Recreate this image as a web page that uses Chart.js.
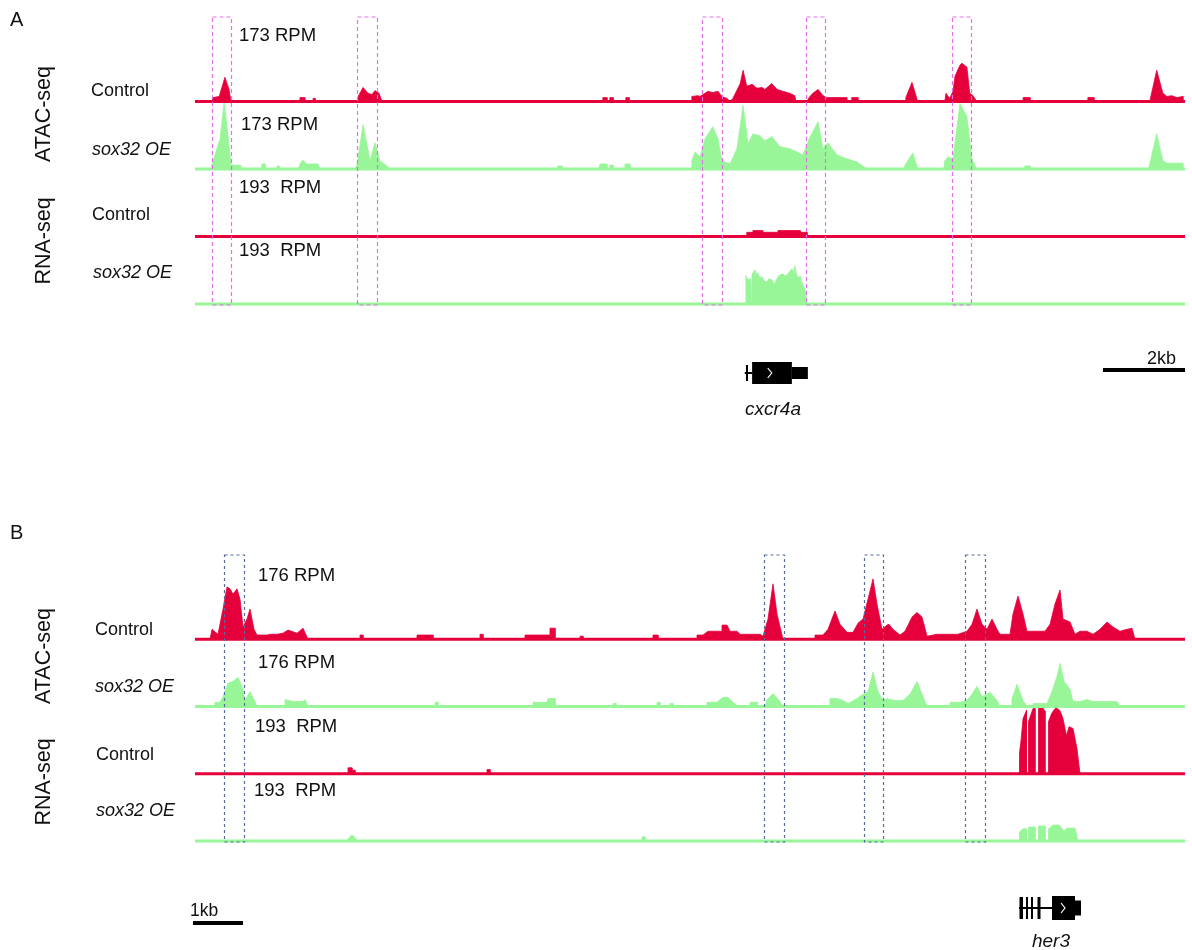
<!DOCTYPE html>
<html>
<head>
<meta charset="utf-8">
<script src="https://cdn.jsdelivr.net/npm/chart.js@4.4.1/dist/chart.umd.min.js"></script>
<style>
  html, body { margin: 0; padding: 0; background: #fff; }
  #page { position: relative; width: 1192px; height: 950px; overflow: hidden;
          font-family: "Liberation Sans", Arial, Helvetica, sans-serif; color: #111; }
  #page canvas { position: absolute; left: 0; }
  .lbl { position: absolute; white-space: pre; line-height: 1; }
  .it { font-style: italic; }
  .rot { transform: translate(-50%, -50%) rotate(-90deg); }
  .ctr { transform: translateX(-50%); }
</style>
</head>
<body>
<div id="page">
  <canvas id="panelA" width="1192" height="475" style="top:0"></canvas>
  <canvas id="panelB" width="1192" height="475" style="top:475px"></canvas>

  <!-- Panel A labels -->
  <div class="lbl" style="left:10px; top:9px; font-size:20px;">A</div>
  <div class="lbl rot" style="left:44px; top:114px; font-size:21.5px;">ATAC-seq</div>
  <div class="lbl rot" style="left:44px; top:241px; font-size:21.5px;">RNA-seq</div>
  <div class="lbl" style="left:91px; top:81px; font-size:18px;">Control</div>
  <div class="lbl it" style="left:92px; top:140px; font-size:18px;">sox32 OE</div>
  <div class="lbl" style="left:92px; top:205px; font-size:18px;">Control</div>
  <div class="lbl it" style="left:93px; top:263px; font-size:18px;">sox32 OE</div>
  <div class="lbl" style="left:239px; top:26px; font-size:18.5px;">173 RPM</div>
  <div class="lbl" style="left:241px; top:115px; font-size:18.5px;">173 RPM</div>
  <div class="lbl" style="left:239px; top:178px; font-size:18.5px;">193  RPM</div>
  <div class="lbl" style="left:239px; top:241px; font-size:18.5px;">193  RPM</div>
  <div class="lbl it ctr" style="left:773px; top:399px; font-size:19px;">cxcr4a</div>
  <div class="lbl" style="left:1147px; top:349px; font-size:18px;">2kb</div>

  <!-- Panel B labels -->
  <div class="lbl" style="left:10px; top:522px; font-size:20px;">B</div>
  <div class="lbl rot" style="left:44px; top:656px; font-size:21.5px;">ATAC-seq</div>
  <div class="lbl rot" style="left:44px; top:782px; font-size:21.5px;">RNA-seq</div>
  <div class="lbl" style="left:95px; top:620px; font-size:18px;">Control</div>
  <div class="lbl it" style="left:95px; top:677px; font-size:18px;">sox32 OE</div>
  <div class="lbl" style="left:96px; top:745px; font-size:18px;">Control</div>
  <div class="lbl it" style="left:96px; top:801px; font-size:18px;">sox32 OE</div>
  <div class="lbl" style="left:258px; top:566px; font-size:18.5px;">176 RPM</div>
  <div class="lbl" style="left:258px; top:653px; font-size:18.5px;">176 RPM</div>
  <div class="lbl" style="left:255px; top:717px; font-size:18.5px;">193  RPM</div>
  <div class="lbl" style="left:254px; top:781px; font-size:18.5px;">193  RPM</div>
  <div class="lbl" style="left:190px; top:902px; font-size:17.5px;">1kb</div>
  <div class="lbl it ctr" style="left:1051px; top:931px; font-size:19px;">her3</div>
</div>

<script>
// Coverage profiles: [position in kb from the window start, signal in RPM]

// ---------- Panel A: cxcr4a locus ----------
const windowA = [0, 24.15];
const atacScaleA = 173;
const rnaScaleA = 193;

const atacControlA = [
  [0,0],[0.41,0],[0.44,10],[0.59,13],[0.73,62],[0.83,31],[0.88,0],
  [2.56,0],[2.56,10],[2.68,10],[2.68,0],[2.88,0],[2.88,8],[2.93,8],[2.93,0],
  [3.95,0],[3.98,13],[4.10,36],[4.22,21],[4.32,18],[4.39,28],[4.49,21],[4.56,0],
  [9.95,0],[9.95,10],[10.05,10],[10.05,0],[10.12,0],[10.12,10],[10.20,10],[10.20,0],
  [10.51,0],[10.51,10],[10.59,10],[10.59,0],
  [12.12,0],[12.12,13],[12.27,15],[12.32,13],[12.44,21],[12.51,26],[12.63,23],[12.76,26],[12.85,13],[12.98,8],[13.05,0],
  [13.12,8],[13.30,46],[13.37,80],[13.46,39],[13.59,44],[13.71,34],[13.83,36],[13.90,31],[14.07,46],[14.20,31],
  [14.34,26],[14.51,21],[14.63,15],[14.66,0],
  [14.93,0],[14.98,10],[15.07,21],[15.20,31],[15.32,15],[15.41,10],[15.90,10],[15.90,0],
  [16.02,0],[16.02,10],[16.17,10],[16.17,0],
  [17.32,0],[17.34,10],[17.49,49],[17.63,0],
  [18.29,0],[18.32,21],[18.41,8],[18.49,26],[18.54,65],[18.66,93],[18.71,98],[18.83,88],[18.90,21],[18.98,15],[19.07,0],
  [20.20,0],[20.20,10],[20.37,10],[20.37,0],[21.78,0],[21.78,10],[21.93,10],[21.93,0],
  [23.29,0],[23.46,80],[23.61,21],[23.71,13],[23.83,15],[23.95,10],[24.10,13],[24.10,0],[24.15,0]
];

const atacSox32A = [
  [0,0],[0.41,0],[0.41,10],[0.61,77],[0.71,170],[0.80,90],[0.88,10],[1.10,10],[1.12,0],
  [1.63,0],[1.63,13],[1.71,13],[1.71,0],[2.00,0],[2.00,8],[2.05,8],[2.05,0],
  [2.52,0],[2.56,13],[2.63,23],[2.72,13],[2.80,13],[3.00,13],[3.05,0],
  [3.92,0],[3.95,10],[4.10,114],[4.27,21],[4.39,67],[4.51,21],[4.68,8],[4.76,0],
  [8.85,0],[8.85,8],[8.95,8],[8.95,0],
  [9.85,0],[9.88,13],[10.05,13],[10.05,0],[10.12,0],[10.12,10],[10.20,10],[10.20,0],
  [10.49,0],[10.49,13],[10.61,13],[10.61,0],
  [12.10,0],[12.12,21],[12.20,44],[12.32,31],[12.44,77],[12.63,108],[12.76,77],[12.85,21],[13.05,13],
  [13.22,52],[13.37,163],[13.49,65],[13.61,90],[13.78,85],[13.90,72],[14.07,83],[14.27,57],[14.51,52],
  [14.68,44],[14.83,36],[14.98,77],[15.20,121],[15.32,52],[15.44,67],[15.66,36],[15.90,26],[16.15,18],[16.39,0],
  [17.30,0],[17.32,10],[17.51,41],[17.63,0],
  [18.27,0],[18.29,21],[18.37,31],[18.49,26],[18.66,168],[18.83,134],[18.95,26],[19.07,0],
  [20.24,0],[20.24,8],[20.37,8],[20.37,0],
  [23.26,0],[23.29,13],[23.46,90],[23.61,21],[23.71,15],[24.10,15],[24.10,0],[24.15,0]
];

const rnaControlA = [
  [13.44,0],[13.46,0],[13.46,12],[13.61,12],[13.61,17],[13.85,17],[13.85,12],
  [14.22,12],[14.22,17],[14.76,17],[14.76,12],[14.93,12],[14.93,0]
];

const rnaSox32A = [
  [13.42,0],[13.44,81],[13.49,69],[13.54,72],[13.55,6],[13.57,6],[13.59,86],[13.63,92],[13.66,98],
  [13.70,84],[13.73,89],[13.78,75],[13.83,78],[13.88,66],[13.95,63],[14.00,72],[14.07,69],[14.12,58],
  [14.15,60],[14.22,78],[14.28,84],[14.34,86],[14.40,80],[14.46,86],[14.52,95],[14.56,101],[14.60,90],
  [14.63,109],[14.67,86],[14.71,75],[14.76,80],[14.80,63],[14.88,43],[14.93,0]
];

// highlighted regions (kb)
const regionsA = [[0.41,0.87],[3.96,4.43],[12.36,12.85],[14.90,15.37],[18.46,18.94]];

// cxcr4a gene model (kb)
const geneA = { intron: [13.41,13.59], exons: [[13.44,13.49]], cds: [13.59,14.56], utr: [14.56,14.95], strandMark: 14.02 };
const scaleBarA = { start: 22.15, length: 2 };

// ---------- Panel B: her3 locus ----------
const windowB = [0, 19.8];
const atacScaleB = 176;
const rnaScaleB = 193;

const atacControlB = [
  [0,0],[0.30,0],[0.34,26],[0.46,13],[0.56,79],[0.64,137],[0.70,132],[0.76,118],[0.84,132],[0.90,105],
  [0.96,32],[1.04,53],[1.10,79],[1.18,26],[1.24,11],[1.44,11],[1.50,13],[1.64,13],[1.76,16],[1.86,24],
  [2.04,16],[2.16,29],[2.26,0],
  [3.30,0],[3.30,11],[3.36,11],[3.36,0],
  [4.44,0],[4.44,11],[4.76,11],[4.76,0],
  [5.70,0],[5.70,13],[5.76,13],[5.76,0],
  [6.60,0],[6.60,11],[7.10,11],[7.10,29],[7.20,29],[7.20,0],
  [7.70,0],[7.70,8],[7.76,8],[7.76,0],
  [9.16,0],[9.16,11],[9.26,11],[9.26,0],
  [10.04,0],[10.04,11],[10.16,11],[10.26,21],[10.54,21],[10.54,37],[10.64,37],[10.70,21],[10.84,21],
  [10.90,13],[11.30,13],[11.36,8],[11.46,53],[11.56,145],[11.64,66],[11.76,0],
  [12.40,0],[12.40,11],[12.56,11],[12.66,26],[12.80,74],[12.90,39],[13.04,18],[13.16,18],[13.26,42],
  [13.36,53],[13.46,105],[13.56,158],[13.64,92],[13.74,26],[13.84,37],[13.88,39],[13.96,26],[14.10,11],
  [14.20,21],[14.34,58],[14.44,70],[14.54,58],[14.64,8],[14.84,13],[15.26,13],[15.44,21],[15.54,39],
  [15.64,79],[15.74,39],[15.84,26],[15.94,53],[16.04,26],[16.10,13],[16.30,13],[16.36,66],[16.46,113],
  [16.56,66],[16.64,21],[16.76,21],[17.00,21],[17.10,39],[17.20,92],[17.30,129],[17.36,53],[17.50,45],
  [17.60,13],[17.70,21],[17.84,21],[17.96,13],[18.10,26],[18.24,45],[18.36,32],[18.50,21],[18.64,26],
  [18.74,29],[18.80,0],[19.80,0]
];

const atacSox32B = [
  [0,0],[0.40,0],[0.40,11],[0.50,11],[0.56,26],[0.66,61],[0.76,66],[0.86,76],[0.94,53],[1.00,16],
  [1.10,39],[1.20,13],[1.24,0],
  [1.80,0],[1.80,18],[1.96,13],[2.16,13],[2.20,18],[2.26,0],
  [4.80,0],[4.80,11],[4.86,11],[4.86,0],
  [6.76,0],[6.76,11],[7.04,11],[7.06,21],[7.20,21],[7.20,0],
  [8.36,0],[8.36,8],[8.42,8],[8.42,0],
  [9.24,0],[9.24,11],[9.30,11],[9.30,0],[9.50,0],[9.50,8],[9.56,8],[9.56,0],
  [10.24,0],[10.24,11],[10.44,11],[10.56,24],[10.66,24],[10.76,11],[10.86,0],
  [11.10,0],[11.10,11],[11.24,11],[11.24,0],
  [11.40,0],[11.44,18],[11.56,34],[11.70,13],[11.76,0],
  [12.70,0],[12.70,21],[12.84,21],[12.96,16],[13.06,8],[13.24,21],[13.36,32],[13.46,39],[13.56,90],
  [13.66,39],[13.76,16],[13.84,21],[13.90,18],[14.00,16],[14.16,16],[14.30,32],[14.44,66],[14.56,26],[14.64,0],
  [15.10,0],[15.10,11],[15.30,11],[15.44,16],[15.54,32],[15.64,53],[15.74,26],[15.90,37],[16.04,16],[16.10,0],
  [16.34,0],[16.34,21],[16.44,58],[16.56,16],[16.64,0],
  [16.76,0],[16.76,8],[17.04,8],[17.14,39],[17.24,79],[17.30,113],[17.38,66],[17.50,45],[17.56,13],
  [17.70,13],[17.84,18],[17.96,13],[18.04,13],[18.44,13],[18.50,0],[19.80,0]
];

const rnaControlB = [
  [3.06,0],[3.06,17],[3.14,17],[3.14,10],[3.20,10],[3.20,0],
  [5.84,0],[5.84,12],[5.90,12],[5.90,0],
  [16.48,0],[16.49,60],[16.52,95],[16.56,158],[16.63,182],[16.63,0],
  [16.67,0],[16.67,150],[16.76,187],[16.80,187],[16.80,0],
  [16.87,0],[16.87,187],[16.94,192],[17.00,180],[17.00,0],
  [17.07,0],[17.07,150],[17.14,175],[17.22,190],[17.30,181],[17.36,158],[17.43,109],[17.48,135],
  [17.56,130],[17.64,72],[17.70,0]
];

const rnaSox32B = [
  [3.04,0],[3.08,10],[3.14,17],[3.20,10],[3.24,0],
  [8.94,0],[8.94,12],[9.00,12],[9.00,0],
  [16.49,0],[16.49,26],[16.56,35],[16.63,35],[16.63,0],
  [16.67,0],[16.67,40],[16.80,40],[16.80,0],
  [16.87,0],[16.87,43],[17.00,43],[17.00,0],
  [17.07,0],[17.07,35],[17.16,46],[17.28,46],[17.38,29],[17.44,37],[17.60,37],[17.66,0]
];

const regionsB = [[0.57,0.97],[11.37,11.77],[13.37,13.75],[15.40,15.80]];

// her3 gene model (kb)
const geneB = { intron: [16.48,17.14], exons: [[16.49,16.56],[16.62,16.65],[16.72,16.76],[16.85,16.91]],
                cds: [17.14,17.60], utr: [17.60,17.72], strandMark: 17.36 };
const scaleBarB = { start: -0.04, length: 1 };

// ---------- drawing ----------
const RED = 'rgb(229,0,59)';
const GREEN = 'rgb(152,246,152)';

function toPoints(pairs) { return pairs.map(p => ({ x: p[0], y: p[1] })); }

function track(profile, axis, color) {
  return {
    data: toPoints(profile), yAxisID: axis,
    borderColor: color, backgroundColor: color, borderWidth: 0.8,
    fill: 'origin', pointRadius: 0, tension: 0
  };
}

function trackAxis(max) {
  return { type: 'linear', position: 'left', stack: 'tracks', stackWeight: 1, min: 0, max: max, display: false };
}

function makeDecor(cfg) {
  return {
    id: 'trackDecor',
    afterDatasetsDraw(chart) {
      const { ctx, chartArea, scales } = chart;
      const x = scales.x;
      // track baselines
      cfg.baselines.forEach(b => {
        const y = scales[b.axis].getPixelForValue(0);
        ctx.save();
        ctx.strokeStyle = b.color; ctx.lineWidth = 3.2;
        ctx.beginPath(); ctx.moveTo(chartArea.left, y); ctx.lineTo(chartArea.right, y); ctx.stroke();
        ctx.restore();
      });
      // dashed highlight boxes
      ctx.save();
      ctx.strokeStyle = cfg.boxColor; ctx.lineWidth = 1.2; ctx.setLineDash(cfg.boxDash);
      cfg.regions.forEach(r => {
        const l = Math.round(x.getPixelForValue(r[0])) + 0.5;
        const rr = Math.round(x.getPixelForValue(r[1])) + 0.5;
        const top = chartArea.top - cfg.boxRise;
        ctx.strokeRect(l, top, rr - l, chartArea.bottom + 1 - top);
      });
      ctx.restore();
    },
    afterDraw(chart) {
      const { ctx, chartArea, scales } = chart;
      const x = scales.x;
      const g = cfg.gene;
      const yc = chartArea.bottom + cfg.geneOffset;
      ctx.save();
      ctx.fillStyle = '#000'; ctx.strokeStyle = '#000';
      ctx.lineWidth = 2;
      ctx.beginPath(); ctx.moveTo(x.getPixelForValue(g.intron[0]), yc); ctx.lineTo(x.getPixelForValue(g.intron[1]), yc); ctx.stroke();
      g.exons.forEach(e => {
        const l = x.getPixelForValue(e[0]);
        const w = Math.max(x.getPixelForValue(e[1]) - l, 2);
        ctx.fillRect(l, yc - cfg.exonH / 2, w, cfg.exonH);
      });
      const c0 = x.getPixelForValue(g.cds[0]), c1 = x.getPixelForValue(g.cds[1]);
      ctx.fillRect(c0, yc - cfg.cdsH / 2, c1 - c0, cfg.cdsH);
      const u0 = x.getPixelForValue(g.utr[0]), u1 = x.getPixelForValue(g.utr[1]);
      ctx.fillRect(u0, yc - cfg.utrH / 2, u1 - u0, cfg.utrH);
      // strand chevron
      const ax = x.getPixelForValue(g.strandMark);
      ctx.strokeStyle = '#fff'; ctx.lineWidth = 1.2;
      ctx.beginPath(); ctx.moveTo(ax - 2, yc - 5); ctx.lineTo(ax + 2, yc); ctx.lineTo(ax - 2, yc + 5); ctx.stroke();
      // scale bar
      const s0 = x.getPixelForValue(cfg.scaleBar.start);
      const s1 = x.getPixelForValue(cfg.scaleBar.start + cfg.scaleBar.length);
      ctx.fillStyle = '#000';
      ctx.fillRect(s0, chartArea.bottom + cfg.barOffset, s1 - s0, 4);
      ctx.restore();
    }
  };
}

function panel(canvasId, win, atacMax, rnaMax, profiles, padding, decor) {
  return new Chart(document.getElementById(canvasId), {
    type: 'line',
    data: {
      datasets: [
        track(profiles[0], 'atacCtrl', RED),
        track(profiles[1], 'atacOE', GREEN),
        track(profiles[2], 'rnaCtrl', RED),
        track(profiles[3], 'rnaOE', GREEN)
      ]
    },
    options: {
      responsive: false, animation: false, devicePixelRatio: 1,
      layout: { padding: padding },
      plugins: { legend: { display: false }, tooltip: { enabled: false } },
      scales: {
        x: { type: 'linear', min: win[0], max: win[1], display: false },
        rnaOE: trackAxis(rnaMax),
        rnaCtrl: trackAxis(rnaMax),
        atacOE: trackAxis(atacMax),
        atacCtrl: trackAxis(atacMax)
      }
    },
    plugins: [makeDecor(decor)]
  });
}

const baselines = [
  { axis: 'atacCtrl', color: RED }, { axis: 'atacOE', color: GREEN },
  { axis: 'rnaCtrl', color: RED }, { axis: 'rnaOE', color: GREEN }
];

panel('panelA', windowA, atacScaleA, rnaScaleA,
  [atacControlA, atacSox32A, rnaControlA, rnaSox32A],
  { left: 195, right: 7, top: 34, bottom: 171 },
  { baselines, regions: regionsA, boxColor: 'rgb(226,112,234)', boxDash: [4, 3], boxRise: 17,
    gene: geneA, geneOffset: 69, exonH: 16, cdsH: 22, utrH: 12,
    scaleBar: scaleBarA, barOffset: 64 });

panel('panelB', windowB, atacScaleB, rnaScaleB,
  [atacControlB, atacSox32B, rnaControlB, rnaSox32B],
  { left: 195, right: 7, top: 97, bottom: 109 },
  { baselines, regions: regionsB, boxColor: 'rgb(88,108,160)', boxDash: [3, 3], boxRise: 17,
    gene: geneB, geneOffset: 67, exonH: 22, cdsH: 24, utrH: 15,
    scaleBar: scaleBarB, barOffset: 80 });
</script>
</body>
</html>
